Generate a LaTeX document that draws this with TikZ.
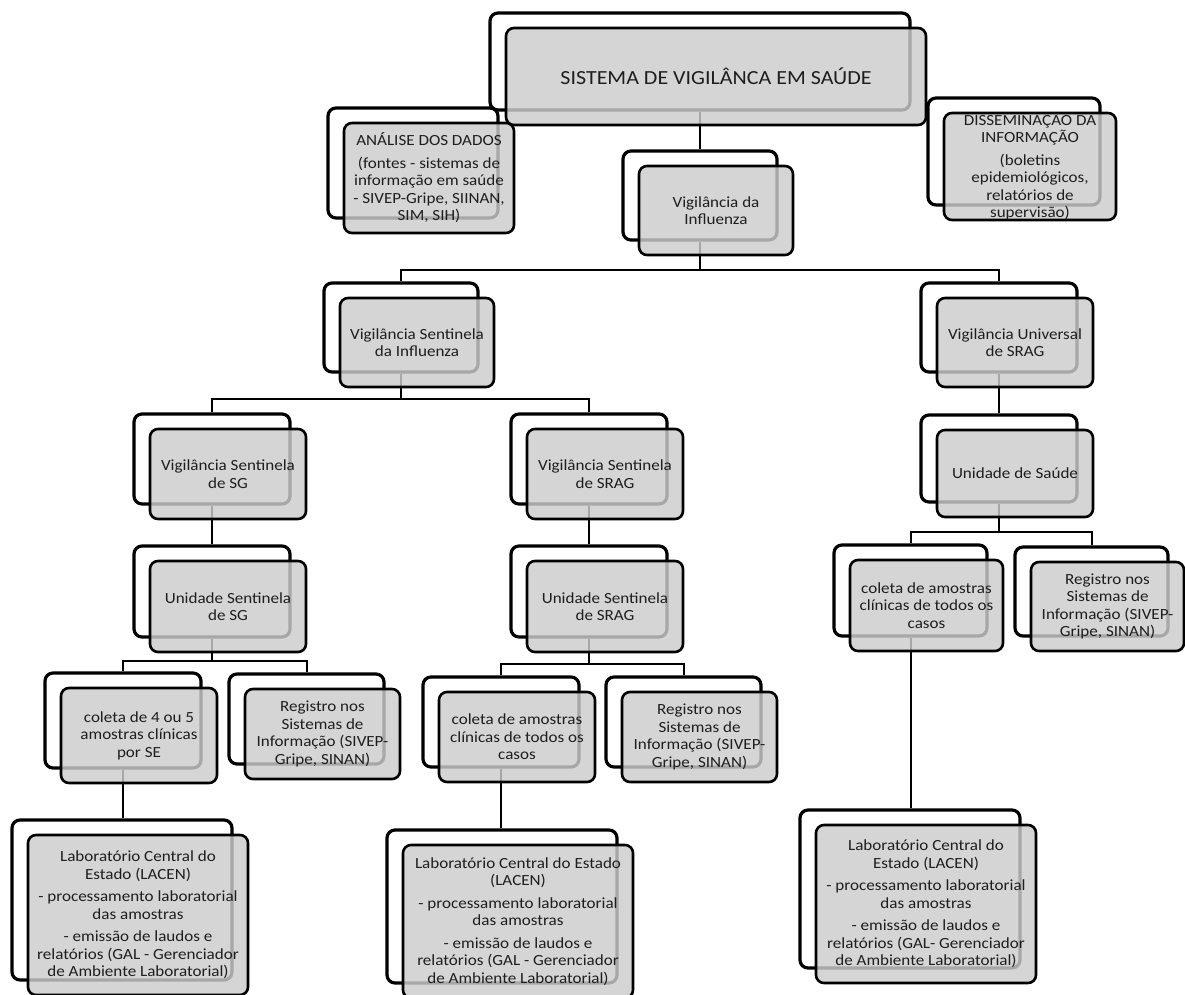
\documentclass[tikz,border=0pt]{standalone}
\usepackage{fontspec}
\setmainfont{Carlito}[FakeStretch=1.1]
\usetikzlibrary{fit,backgrounds}
\definecolor{boxgray}{RGB}{204,204,204}
\definecolor{txtcol}{RGB}{30,30,30}
\tikzset{
  backbox/.style={draw=black, line width=3.2pt, fill=white, rounded corners=8pt, inner sep=0pt},
  frontbox/.style={draw=black, line width=2.6pt, fill=boxgray, fill opacity=0.82, rounded corners=8pt, inner sep=0pt},
  boxtext/.style={text=txtcol, align=center, font=\fontsize{15.5}{17.5}\selectfont, inner sep=0pt},
  titletext/.style={text=txtcol, align=center, font=\fontsize{20}{24}\selectfont, inner sep=0pt},
  conn/.style={draw=black, line width=2pt}
}
\newcommand\twobox[7][boxtext]{%
  \node[backbox, fit={(#3,#4) (#5,#6)}] (#2B) {};
  \node[frontbox, fit={(#3+16,#4+15) (#5+16,#6+15)}] (#2F) {};
  \node[#1] (#2) at (#2F.center) {#7};
}
\begin{document}
\begin{tikzpicture}[x=1pt,y=-1pt]
\useasboundingbox (0,0) rectangle (1185,995);
\coordinate (bar1) at (0,270);
\coordinate (bar2) at (0,399);
\coordinate (bar3) at (0,661);
\coordinate (bar4) at (0,664);
\coordinate (bar5) at (0,532);

\twobox[titletext]{top}{490}{13}{910}{110}{SISTEMA DE VIGILÂNCA EM SAÚDE}
\twobox{ana}{328}{108}{498}{218}{ANÁLISE DOS DADOS\\[5pt](fontes - sistemas de\\informação em saúde\\- SIVEP-Gripe, SIINAN,\\SIM, SIH)}
\twobox{dis}{928}{98}{1100}{205}{DISSEMINAÇÃO DA\\INFORMAÇÃO\\[5pt](boletins\\epidemiológicos,\\relatórios de\\supervisão)}
\twobox{inf}{623}{151}{777}{240}{Vigilância da\\Influenza}
\twobox{sent}{324}{283}{478}{372}{Vigilância Sentinela\\da Influenza}
\twobox{univ}{921}{283}{1077}{372}{Vigilância Universal\\de SRAG}
\twobox{vsg}{134}{414}{290}{504}{Vigilância Sentinela\\de SG}
\twobox{vsrag}{511}{414}{667}{504}{Vigilância Sentinela\\de SRAG}
\twobox{usaude}{921}{415}{1077}{502}{Unidade de Saúde}
\twobox{usg}{134}{546}{290}{637}{Unidade Sentinela\\de SG}
\twobox{usrag}{511}{546}{667}{637}{Unidade Sentinela\\de SRAG}
\twobox{colA}{45}{673}{201}{768}{coleta de 4 ou 5\\amostras clínicas\\por SE}
\twobox{regA}{229}{674}{384}{764}{Registro nos\\Sistemas de\\Informação (SIVEP-\\Gripe, SINAN)}
\twobox{colB}{423}{677}{579}{767}{coleta de amostras\\clínicas de todos os\\casos}
\twobox{regB}{606}{677}{761}{767}{Registro nos\\Sistemas de\\Informação (SIVEP-\\Gripe, SINAN)}
\twobox{colC}{834}{545}{987}{636}{coleta de amostras\\clínicas de todos os\\casos}
\twobox{regC}{1015}{547}{1168}{636}{Registro nos\\Sistemas de\\Informação (SIVEP-\\Gripe, SINAN)}
\twobox{labA}{12}{820}{232}{980}{Laboratório Central do\\Estado (LACEN)\\[5pt]- processamento laboratorial\\das amostras\\[5pt]- emissão de laudos e\\relatórios (GAL - Gerenciador\\de Ambiente Laboratorial)}
\twobox{labB}{387}{830}{617}{983}{Laboratório Central do Estado\\(LACEN)\\[5pt]- processamento laboratorial\\das amostras\\[5pt]- emissão de laudos e\\relatórios (GAL - Gerenciador\\de Ambiente Laboratorial)}
\twobox{labC}{800}{810}{1020}{968}{Laboratório Central do\\Estado (LACEN)\\[5pt]- processamento laboratorial\\das amostras\\[5pt]- emissão de laudos e\\relatórios (GAL- Gerenciador\\de Ambiente Laboratorial)}

\begin{scope}[on background layer]
\draw[conn] (topB.south) -- (topB.south |- infB.north);
\draw[conn] (infB.south) |- (sentB.north |- bar1) -- (sentB.north);
\draw[conn] (infB.south) |- (univB.north |- bar1) -- (univB.north);
\draw[conn] (sentB.south) |- (vsgB.north |- bar2) -- (vsgB.north);
\draw[conn] (sentB.south) |- (vsragB.north |- bar2) -- (vsragB.north);
\draw[conn] (vsgB.south) -- (usgB.north);
\draw[conn] (vsragB.south) -- (usragB.north);
\draw[conn] (univB.south) -- (usaudeB.north);
\draw[conn] (usgB.south) |- (colAB.north |- bar3) -- (colAB.north);
\draw[conn] (usgB.south) |- (regAB.north |- bar3) -- (regAB.north);
\draw[conn] (usragB.south) |- (colBB.north |- bar4) -- (colBB.north);
\draw[conn] (usragB.south) |- (regBB.north |- bar4) -- (regBB.north);
\draw[conn] (usaudeB.south) |- (colCB.north |- bar5) -- (colCB.north);
\draw[conn] (usaudeB.south) |- (regCB.north |- bar5) -- (regCB.north);
\draw[conn] (colAB.south) -- (colAB.south |- labAB.north);
\draw[conn] (colBB.south) -- (colBB.south |- labBB.north);
\draw[conn] (colCB.south) -- (colCB.south |- labCB.north);
\end{scope}
\end{tikzpicture}
\end{document}
